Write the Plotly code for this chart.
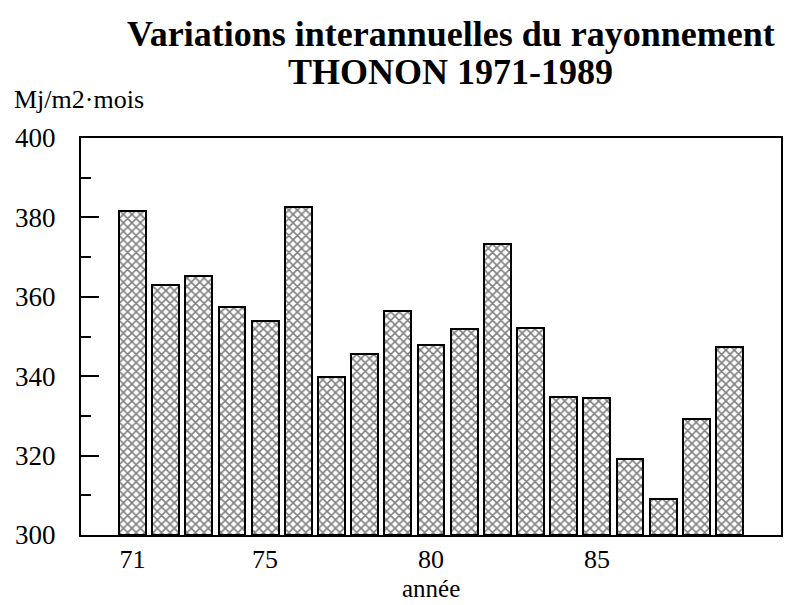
import plotly.graph_objects as go

years = list(range(71, 90))
values = [381.6, 362.9, 365.2, 357.5, 353.9, 382.7, 339.7, 345.6, 356.5, 347.9,
          352.0, 373.2, 352.2, 334.8, 334.4, 319.1, 309.0, 329.3, 347.4]
x_tickvals = [71, 75, 80, 85]
x_ticktext = ["71", "75", "80", "85"]
y_tickvals = [300, 320, 340, 360, 380, 400]

title_line1 = "Variations interannuelles du rayonnement"
title_line2 = "THONON 1971-1989"
y_label = "Mj/m2·mois"
x_label = "année"

FONT = "Liberation Serif, Times New Roman, serif"

fig = go.Figure()
fig.add_trace(go.Bar(
    x=years,
    y=[v - 300 for v in values],
    base=300,
    width=0.81,
    marker=dict(
        color="white",
        line=dict(color="black", width=2),
        pattern=dict(shape="x", fgcolor="black", bgcolor="white", size=6, solidity=0.45),
    ),
    hovertext=[str(v) for v in values],
))

fig.update_layout(
    width=787, height=605,
    margin=dict(l=81, r=4, t=138, b=70),
    paper_bgcolor="white", plot_bgcolor="white",
    showlegend=False,
    font=dict(family=FONT, color="black", size=26),
    bargap=0,
)
fig.update_xaxes(
    range=[69.45, 90.55],
    tickvals=x_tickvals, ticktext=x_ticktext,
    ticks="", showgrid=False, zeroline=False,
    showline=True, linecolor="black", linewidth=2, mirror=True,
    tickfont=dict(family=FONT, size=26),
)
fig.update_yaxes(
    range=[300, 400],
    tickvals=y_tickvals,
    ticks="inside", ticklen=18, tickwidth=1.5, tickcolor="black",
    minor=dict(ticks="inside", ticklen=10, tickwidth=1.5, tickcolor="black", dtick=10, tick0=300, showgrid=False),
    showgrid=False, zeroline=False,
    showline=True, linecolor="black", linewidth=2, mirror=True,
    tickfont=dict(family=FONT, size=27),
    ticklabelstandoff=18,
)

fig.add_annotation(text="<b>" + title_line1 + "</b>", xref="paper", yref="paper",
                   x=0.5285, y=(535 - 34) / 397,
                   xanchor="center", yanchor="middle", showarrow=False,
                   font=dict(family=FONT, size=36, color="black"))
fig.add_annotation(text="<b>" + title_line2 + "</b>", xref="paper", yref="paper",
                   x=0.5285, y=(535 - 72) / 397,
                   xanchor="center", yanchor="middle", showarrow=False,
                   font=dict(family=FONT, size=36, color="black"))
fig.add_annotation(text=y_label, xref="paper", yref="paper",
                   x=(12 - 81) / 702, y=(535 - 100) / 397,
                   xanchor="left", yanchor="middle", showarrow=False,
                   font=dict(family=FONT, size=26, color="black"))
fig.add_annotation(text=x_label, xref="paper", yref="paper",
                   x=0.5, y=(535 - 588) / 397,
                   xanchor="center", yanchor="middle", showarrow=False,
                   font=dict(family=FONT, size=25, color="black"))

fig.write_html("out.html", config={"displayModeBar": False},
               post_script="document.body.style.margin='0px';document.body.style.padding='0px';")
